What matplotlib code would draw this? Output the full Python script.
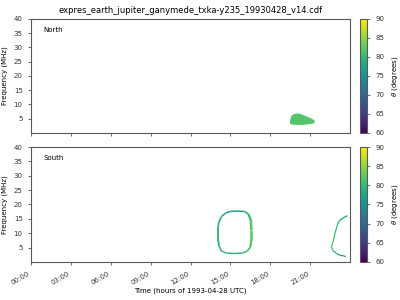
import numpy as np
import matplotlib
matplotlib.use('Agg')
import matplotlib.pyplot as plt
from matplotlib.collections import LineCollection
from matplotlib.colors import Normalize

# North: one emission patch (time in hours, freq in MHz)
north_t = [19.45, 19.5, 19.6, 19.8, 20.0, 20.2, 20.4, 20.6, 20.8, 21.0, 21.15, 21.3]
north_fmax = [4.5, 5.6, 6.4, 6.9, 7.0, 6.9, 6.6, 6.2, 5.8, 5.4, 5.0, 4.6]
north_fmin = [3.6, 3.3, 3.1, 3.05, 3.05, 3.05, 3.05, 3.1, 3.2, 3.3, 3.5, 3.8]
north_theta = 82

# South: closed ring around 14-16.6 h
ring_t = [15.53, 16.05, 16.35, 16.54, 16.58, 16.58, 16.5, 16.28, 15.9, 15.3,
          14.7, 14.33, 14.14, 14.06, 14.06, 14.14, 14.33, 14.63, 15.0, 15.53]
ring_f = [17.7, 17.6, 16.7, 14.6, 11.1, 7.65, 5.2, 3.8, 3.1, 2.95,
          3.1, 3.8, 5.6, 8.3, 11.8, 13.9, 15.8, 17.0, 17.6, 17.7]
ring_theta = [77, 78, 80, 82, 82, 82, 81, 80, 79, 79,
              79, 80, 80, 80, 80, 79, 78, 77, 77, 77]
ring_width = [1.1, 1.1, 1.6, 1.8, 1.8, 1.6, 1.2, 1.1, 1.0, 1.0,
              1.0, 1.2, 1.4, 1.4, 1.3, 1.2, 1.1, 1.1, 1.1]

# South: open arc near the end of the day
arc_t = [23.8, 23.55, 23.2, 23.05, 22.87, 22.73, 22.6, 22.73, 22.97, 23.2, 23.55, 23.68]
arc_f = [16.1, 15.5, 14.4, 12.9, 10.0, 7.1, 5.3, 3.9, 3.0, 2.4, 2.1, 1.85]
arc_theta = [76, 77, 78, 80, 81, 81, 81, 79, 77, 76, 76, 76]

hour_ticks = [0, 3, 6, 9, 12, 15, 18, 21]
freq_ticks = [5, 10, 15, 20, 25, 30, 35, 40]
cbar_ticks = [60, 65, 70, 75, 80, 85, 90]

cmap = plt.get_cmap('viridis')
norm = Normalize(vmin=60, vmax=90)


def colored_line(ax, t, f, theta, lw):
    pts = np.column_stack([t, f])
    segs = np.stack([pts[:-1], pts[1:]], axis=1)
    lc = LineCollection(segs, cmap=cmap, norm=norm, linewidths=lw)
    lc.set_array(np.asarray(theta[:-1], dtype=float))
    ax.add_collection(lc)
    return lc


fig = plt.figure(figsize=(4, 3), dpi=100)
ax1 = fig.add_axes([0.0775, 0.5567, 0.7975, 0.38])
ax2 = fig.add_axes([0.0775, 0.1267, 0.7975, 0.3833])
cax1 = fig.add_axes([0.9, 0.5567, 0.0175, 0.38])
cax2 = fig.add_axes([0.9, 0.1267, 0.0175, 0.3833])

ax1.fill_between(north_t, north_fmin, north_fmax, color=cmap(norm(north_theta)), lw=0)
colored_line(ax2, ring_t, ring_f, ring_theta, ring_width)
colored_line(ax2, arc_t, arc_f, arc_theta, 0.9)

for ax, name in [(ax1, 'North'), (ax2, 'South')]:
    ax.set_xlim(0, 24)
    ax.set_ylim(0, 40)
    ax.set_yticks(freq_ticks)
    ax.set_xticks(hour_ticks)
    ax.set_ylabel('Frequency (MHz)', fontsize=5)
    ax.tick_params(labelsize=5, length=2.5, width=0.5, colors='0.2')
    for s in ax.spines.values():
        s.set_color('0.35')
        s.set_linewidth(0.8)
    ax.text(0.038, 0.9, name, transform=ax.transAxes, fontsize=5, va='center')

ax1.set_xticklabels([])
ax2.set_xticklabels(['%02d:00' % h for h in hour_ticks], rotation=30, ha='right')
ax2.set_xlabel('Time (hours of 1993-04-28 UTC)', fontsize=5, labelpad=1)
ax1.set_title('expres_earth_jupiter_ganymede_txka-y235_19930428_v14.cdf', fontsize=6, pad=4)

sm = plt.cm.ScalarMappable(norm=norm, cmap=cmap)
for cax in (cax1, cax2):
    cb = fig.colorbar(sm, cax=cax, ticks=cbar_ticks)
    cb.set_label(r'$\theta$ (degrees)', fontsize=5)
    cb.ax.tick_params(labelsize=5, length=2.5, width=0.5, colors='0.2')
    cb.outline.set_edgecolor('0.35')
    cb.outline.set_linewidth(0.8)

fig.savefig('out.png', dpi=100)
